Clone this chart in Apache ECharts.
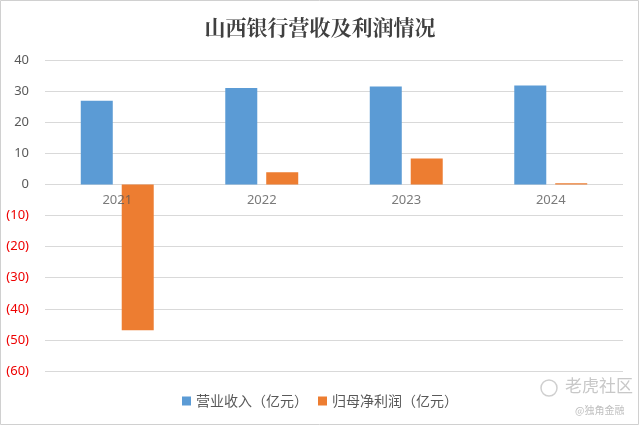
<!DOCTYPE html>
<html><head><meta charset="utf-8">
<script src="https://cdn.jsdelivr.net/npm/echarts@6/dist/echarts.min.js"></script>
<style>html,body{margin:0;padding:0;background:#fff}#c{width:640px;height:426px}</style>
</head><body><div id="c"></div>
<script>
var categories = ['2021', '2022', '2023', '2024'];
var revenue = [26.9, 31.0, 31.5, 31.8];
var netProfit = [-46.9, 3.9, 8.3, 0.4];
var seriesNames = ['营业收入（亿元）', '归母净利润（亿元）'];
var titleText = '山西银行营收及利润情况';

// category labels placed on the zero line (Excel style)
var zeroLabels = categories.map(function (c) { return [c, 0]; });

var chart = echarts.init(document.getElementById('c'));
chart.setOption({
  animation: false,
  backgroundColor: '#fff',
  title: {
    text: titleText, left: 'center', top: 12,
    textStyle: {fontFamily: '"Noto Serif CJK SC", "Noto Sans CJK SC"', fontSize: 21, fontWeight: 'bold', color: '#404040'}
  },
  legend: {
    bottom: 13, left: 'center', itemWidth: 9, itemHeight: 9, itemGap: 10,
    icon: 'rect',
    textStyle: {fontFamily: 'Noto Sans CJK SC', fontSize: 14, color: '#595959'},
    data: seriesNames
  },
  grid: {left: 45, right: 17, top: 60, bottom: 55, containLabel: false},
  xAxis: {
    type: 'category', data: categories,
    axisLine: {show: false},
    axisTick: {show: false},
    axisLabel: {show: false}
  },
  yAxis: {
    type: 'value', min: -60, max: 40, interval: 10,
    axisLine: {show: false, onZero: false}, axisTick: {show: false},
    splitLine: {lineStyle: {color: '#d9d9d9'}},
    axisLabel: {
      fontSize: 13, fontFamily: 'Noto Sans', margin: 16,
      formatter: function (v) { return v < 0 ? '{n|(' + (-v) + ')}' : '{p|' + v + '}'; },
      rich: {p: {color: '#595959', fontSize: 13}, n: {color: '#ee0000', fontSize: 13}}
    }
  },
  series: [
    {name: seriesNames[0], type: 'bar', data: revenue, barWidth: 32, barGap: '28%', z: 2, itemStyle: {color: '#5B9BD5'}},
    {name: seriesNames[1], type: 'bar', data: netProfit, barWidth: 32, barGap: '28%', z: 2, itemStyle: {color: '#ED7D31'}},
    {name: 'axisLabels', type: 'scatter', data: zeroLabels, symbolSize: 0, z: 5, silent: true,
     label: {show: true, position: 'bottom', distance: 9, formatter: function (p) { return p.value[0]; },
             color: '#595959', fontSize: 13, fontFamily: 'Noto Sans'}}
  ],
  graphic: [
    {type: 'rect', shape: {x: 0.5, y: 0.5, width: 638, height: 424}, style: {fill: 'none', stroke: '#d0d0d0', lineWidth: 1}, silent: true},
    {type: 'circle', shape: {cx: 549, cy: 388, r: 8}, style: {fill: 'none', stroke: '#cfcfcf', lineWidth: 1.5}, silent: true},
    {type: 'text', left: 565, top: 377, style: {text: '老虎社区', fill: '#c8c8c8', font: '17px "Noto Sans CJK SC"'}, silent: true},
    {type: 'text', left: 575, top: 405, style: {text: '@独角金融', fill: '#c0c0c0', font: '10px "Noto Sans CJK SC"'}, silent: true}
  ]
});
</script></body></html>
